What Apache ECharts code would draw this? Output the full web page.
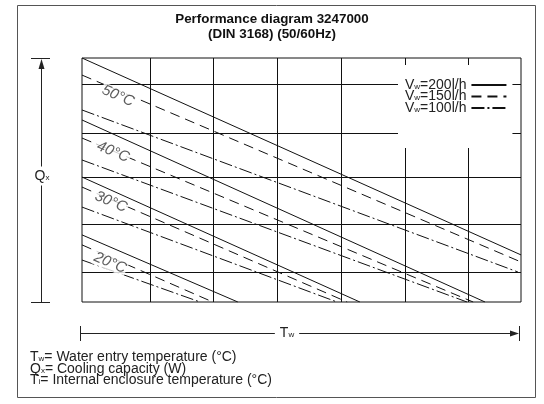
<!DOCTYPE html>
<html>
<head>
<meta charset="utf-8">
<script src="https://cdn.jsdelivr.net/npm/echarts@6/dist/echarts.min.js"></script>
<style>
  html, body { margin: 0; padding: 0; background: #fff; }
  #chart { width: 544px; height: 404px; }
</style>
</head>
<body>
<div id="chart"></div>
<script>
// Relative scales (no printed values): water entry temperature Tw on x, cooling capacity Qx on y, both 0..100
const twRange = [0, 100];
const qxRange = [0, 100];

// Irregular grid divisions of the diagram
const twGrid = [15.5, 29.8, 44.4, 59.0, 73.6, 87.9];
const qxGrid = [12.3, 32.0, 51.2, 69.3, 89.3];

// Flow rates (legend) and internal enclosure temperatures (curve families)
const flowNames = ['Vw=200l/h', 'Vw=150l/h', 'Vw=100l/h'];
const tempNames = ['50°C', '40°C', '30°C', '20°C'];

// Each curve: start and end point [Tw, Qx]; order inside a family: 200, 150, 100 l/h
const curves50 = [[[0, 100.0], [100, 19.3]], [[0, 93.0], [100, 16.4]], [[0, 78.7], [99.3, 12.3]]];
const curves40 = [[[0, 74.6], [91.8, 0]], [[0, 67.2], [89.1, 0]], [[0, 58.2], [87.7, 0]]];
const curves30 = [[[0, 51.2], [63.3, 0]], [[0, 47.1], [60.4, 0]], [[0, 38.9], [58.1, 0]]];
const curves20 = [[[0, 27.5], [35.5, 0]], [[0, 23.4], [29.8, 0]], [[0, 17.2], [26.9, 0]]];

// Temperature tags placed along the 150 l/h curves
const tempTagTw = [8.2, 7.1, 6.6, 6.4];
const tempTagQx = [84.4, 61.5, 41.0, 16.0];

const FONT = '"Liberation Sans", Arial, Helvetica, sans-serif';
const INK = '#111';
const G = { left: 82, top: 58, width: 439, height: 244 };

const flowStyles = [
  { type: 'solid', width: 1 },
  { type: [10, 6], width: 1 },
  { type: [13, 3, 2, 3], width: 1 }
];

const families = [curves50, curves40, curves30, curves20];
const series = [];

// grid divisions
series.push({
  type: 'line',
  name: 'grid',
  data: [],
  silent: true,
  z: 1,
  markLine: {
    silent: true,
    z: 1,
    symbol: ['none', 'none'],
    label: { show: false },
    lineStyle: { color: INK, width: 1, type: 'solid' },
    data: twGrid.map(v => ({ xAxis: v })).concat(qxGrid.map(v => ({ yAxis: v })))
  }
});

families.forEach(fam => {
  fam.forEach((pts, i) => {
    series.push({
      type: 'line',
      name: flowNames[i],
      data: pts,
      symbol: 'none',
      silent: true,
      z: 2,
      lineStyle: Object.assign({ color: INK }, flowStyles[i]),
      itemStyle: { color: INK }
    });
  });
});

series.push({
  type: 'scatter',
  name: 'tags',
  z: 5,
  symbolSize: 0,
  silent: true,
  data: tempNames.map((t, i) => [tempTagTw[i], tempTagQx[i], t]),
  label: {
    show: true,
    position: 'inside',
    formatter: p => p.value[2],
    rotate: -23,
    fontFamily: FONT,
    fontStyle: 'italic',
    fontSize: 15,
    color: '#333',
    backgroundColor: '#fff',
    padding: [0, 1]
  }
});

const chart = echarts.init(document.getElementById('chart'), null, { renderer: 'canvas' });

const sub = { fontSize: 8, verticalAlign: 'bottom', fontFamily: FONT, fill: '#222', lineHeight: 11 };
const main = { fontSize: 14, fontFamily: FONT, fill: '#222', lineHeight: 11 };

const yB = G.top + G.height;
const qxX = 41, twY = 333, twL = 80, twR = 519;

chart.setOption({
  animation: false,
  backgroundColor: '#fff',
  title: {
    text: 'Performance diagram 3247000\n(DIN 3168) (50/60Hz)',
    left: 'center',
    top: 7,
    textStyle: { fontFamily: FONT, fontWeight: 'bold', fontSize: 13.4, lineHeight: 15, color: '#111' }
  },
  grid: {
    left: G.left, top: G.top, width: G.width, height: G.height,
    show: true, borderColor: INK, borderWidth: 1, backgroundColor: 'transparent'
  },
  xAxis: {
    type: 'value', min: twRange[0], max: twRange[1],
    axisLine: { show: false }, axisTick: { show: false }, axisLabel: { show: false }, splitLine: { show: false }
  },
  yAxis: {
    type: 'value', min: qxRange[0], max: qxRange[1],
    axisLine: { show: false }, axisTick: { show: false }, axisLabel: { show: false }, splitLine: { show: false }
  },
  legend: {
    data: flowNames,
    z: 10,
    orient: 'vertical',
    left: 398,
    top: 65,
    align: 'right',
    itemWidth: 35,
    itemHeight: 10,
    itemGap: -2.5,
    padding: [13, 5, 33, 7],
    backgroundColor: '#fff',
    selectedMode: false,
    itemStyle: { opacity: 0 },
    formatter: n => '{a|V}{b|w}{a|' + n.slice(2) + '}',
    textStyle: {
      rich: {
        a: { fontSize: 14, lineHeight: 11, fontFamily: FONT, color: '#222' },
        b: { fontSize: 8, lineHeight: 11, fontFamily: FONT, color: '#222', verticalAlign: 'bottom' }
      }
    }
  },
  series: series,
  graphic: [
    // outer frame
    { type: 'rect', shape: { x: 17.5, y: 5.5, width: 518, height: 392 }, style: { fill: null, stroke: '#555', lineWidth: 1 }, z: 0 },
    // Qx axis
    { type: 'line', shape: { x1: qxX + 0.5, y1: G.top + 6, x2: qxX + 0.5, y2: yB }, style: { stroke: '#222', lineWidth: 1 } },
    { type: 'line', shape: { x1: 31, y1: G.top + 0.5, x2: 50, y2: G.top + 0.5 }, style: { stroke: '#222', lineWidth: 1 } },
    { type: 'line', shape: { x1: 31, y1: yB + 0.5, x2: 50, y2: yB + 0.5 }, style: { stroke: '#222', lineWidth: 1 } },
    { type: 'polygon', shape: { points: [[qxX + 0.5, G.top + 1], [qxX - 2.5, G.top + 11], [qxX + 3.5, G.top + 11]] }, style: { fill: '#222' } },
    { type: 'text', x: qxX + 1, y: 176, style: { text: '{m|Q}{s|x}', rich: { m: main, s: sub }, align: 'center', verticalAlign: 'middle', backgroundColor: '#fff', padding: [4, 1] } },
    // Tw axis
    { type: 'line', shape: { x1: twL, y1: twY + 0.5, x2: twR - 6, y2: twY + 0.5 }, style: { stroke: '#222', lineWidth: 1 } },
    { type: 'line', shape: { x1: twL + 0.5, y1: twY - 7, x2: twL + 0.5, y2: twY + 8 }, style: { stroke: '#222', lineWidth: 1 } },
    { type: 'line', shape: { x1: twR + 0.5, y1: twY - 7, x2: twR + 0.5, y2: twY + 8 }, style: { stroke: '#222', lineWidth: 1 } },
    { type: 'polygon', shape: { points: [[twR, twY + 0.5], [twR - 9, twY - 2.5], [twR - 9, twY + 3.5]] }, style: { fill: '#222' } },
    { type: 'text', x: 287, y: twY, style: { text: '{m|T}{s|w}', rich: { m: main, s: sub }, align: 'center', verticalAlign: 'middle', backgroundColor: '#fff', padding: [0, 5] } },
    // symbol explanation
    { type: 'text', x: 30, y: 352, style: { text: '{m|T}{s|w}{m|= Water entry temperature (°C)}', rich: { m: main, s: sub } } },
    { type: 'text', x: 30, y: 363.5, style: { text: '{m|Q}{s|x}{m|= Cooling capacity (W)}', rich: { m: main, s: sub } } },
    { type: 'text', x: 30, y: 375, style: { text: '{m|T}{s|i}{m|= Internal enclosure temperature (°C)}', rich: { m: main, s: sub } } }
  ]
});
</script>
</body>
</html>
